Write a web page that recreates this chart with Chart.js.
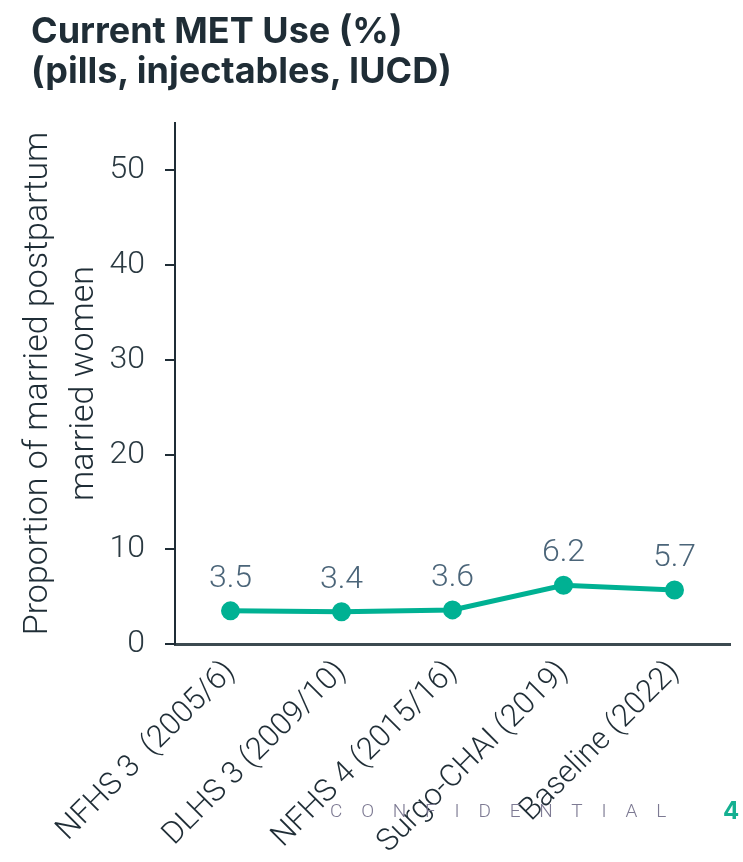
<!DOCTYPE html>
<html>
<head>
<meta charset="utf-8">
<script src="https://cdn.jsdelivr.net/npm/chart.js@4"></script>
<style>
  body { margin: 0; background: #fff; }
  #wrap { position: relative; width: 743px; height: 862px; overflow: hidden; }
  #title { position: absolute; left: 31px; top: 10px; font-family: Inter, Roboto, sans-serif; font-weight: 700;
           font-size: 36px; line-height: 40px; color: #1f2d36; letter-spacing: 0px; }
  #conf { position: absolute; left: 330px; top: 799px; font-family: Roboto, sans-serif; font-weight: 300;
          font-size: 19px; letter-spacing: 18.8px; color: #7d7a93; }
  #page { position: absolute; left: 723px; top: 796px; font-family: Inter, Roboto, sans-serif; font-weight: 700;
          font-size: 24px; color: #14b091; }
</style>
</head>
<body>
<div id="wrap">
  <canvas id="chart" width="743" height="862"></canvas>
  <div id="title">Current MET Use (%)<br>(pills, injectables, IUCD)</div>
  <div id="conf">CONFIDENTIAL</div>
  <div id="page">4</div>
</div>
<script>
let categories = ['NFHS 3  (2005/6)', 'DLHS 3 (2009/10)', 'NFHS 4 (2015/16)', 'Surgo-CHAI (2019)', 'Baseline (2022)'];
let metUse = [3.5, 3.4, 3.6, 6.2, 5.7];
let yTicks = [0, 10, 20, 30, 40, 50];

let fontFam = 'Roboto, sans-serif';

// draws the value above each point
let valueLabels = {
  id: 'valueLabels',
  afterDatasetsDraw(chart) {
    let ctx = chart.ctx;
    let meta = chart.getDatasetMeta(0);
    ctx.save();
    ctx.font = '300 32px ' + fontFam;
    ctx.fillStyle = '#4b6579';
    ctx.textAlign = 'center';
    ctx.textBaseline = 'alphabetic';
    meta.data.forEach(function (pt, i) {
      ctx.fillText(metUse[i].toFixed(1), pt.x, pt.y - 24);
    });
    ctx.restore();
  }
};

new Chart(document.getElementById('chart'), {
  type: 'line',
  data: {
    labels: categories,
    datasets: [{
      data: metUse,
      borderColor: '#00b193',
      backgroundColor: '#00b193',
      borderWidth: 5,
      pointRadius: 7,
      pointHoverRadius: 7,
      tension: 0
    }]
  },
  options: {
    responsive: false,
    animation: false,
    devicePixelRatio: 1,
    layout: { padding: { left: 0, right: 13, top: 123, bottom: 0 } },
    plugins: { legend: { display: false }, tooltip: { enabled: false } },
    scales: {
      x: {
        offset: true,
        border: { color: '#3c4a50', width: 3 },
        grid: { display: false, drawTicks: false },
        ticks: {
          color: '#1f2d36', font: { family: fontFam, size: 31, weight: 300 },
          minRotation: 45, maxRotation: 45, padding: 10
        },
        afterFit(scale) { scale.height = 218; }
      },
      y: {
        min: 0, max: 55,
        afterBuildTicks(scale) { scale.ticks = yTicks.map(v => ({ value: v })); },
        border: { color: '#1f2d36', width: 2 },
        grid: { drawOnChartArea: false, drawTicks: true, tickLength: 10, color: '#1f2d36', lineWidth: 2 },
        ticks: { color: '#2b3a42', font: { family: fontFam, size: 32, weight: 300 }, padding: 20 },
        title: {
          display: true,
          text: ['Proportion of married postpartum', 'married women'],
          color: '#1f2d36',
          font: { family: fontFam, size: 34, weight: 300, lineHeight: 1.35 },
          padding: { top: 16, bottom: 0 }
        },
        afterFit(scale) { scale.width = 175; }
      }
    }
  },
  plugins: [valueLabels]
});
</script>
</body>
</html>
